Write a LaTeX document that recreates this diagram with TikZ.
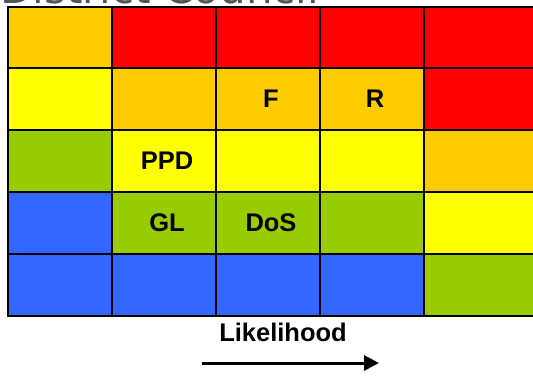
\documentclass[tikz,border=0pt]{standalone}
\usepackage{fontspec}
\setmainfont{Liberation Sans}
\newfontfamily\titlefont{DejaVu Sans}
\usetikzlibrary{arrows.meta}
\definecolor{rOrange}{HTML}{FFCC00}
\definecolor{rRed}{HTML}{FF0000}
\definecolor{rYellow}{HTML}{FFFF00}
\definecolor{rGreen}{HTML}{99CC00}
\definecolor{rBlue}{HTML}{3366FF}
\definecolor{titlegray}{HTML}{555555}
\tikzset{
  cell/.style={draw=black, line width=2.4pt, minimum width=104pt, minimum height=62pt,
    inner sep=0pt, outer sep=0pt, anchor=north west},
  lastcell/.style={cell, minimum width=120pt},
  risk/.style={font=\bfseries\fontsize{25.5}{28}\selectfont, text=black, xshift=3pt},
}
\begin{document}
\begin{tikzpicture}[x=1pt, y=-1pt]
\useasboundingbox (0,0) rectangle (533,376);
\clip (0,0) rectangle (533,376);
\fill[white] (0,0) rectangle (533,376);
% title, mostly above the visible area
\node[anchor=base west, inner sep=0pt, text=titlegray,
  font=\titlefont\fontsize{42}{46}\selectfont] (title) at (0,3) {District Council};
% risk matrix: row by row, top to bottom
\foreach \r/\y/\cols in {1/7/{rOrange,rRed,rRed,rRed,rRed},
                          2/68/{rYellow,rOrange,rOrange,rOrange,rRed},
                          3/130/{rGreen,rYellow,rYellow,rYellow,rOrange},
                          4/192/{rBlue,rGreen,rGreen,rGreen,rYellow},
                          5/254/{rBlue,rBlue,rBlue,rBlue,rGreen}} {
  \foreach \c [count=\k] in \cols {
    \ifnum\k<5
      \node[cell, fill=\c] (c\r\k) at ({8+104*(\k-1)}, \y) {};
    \else
      \node[lastcell, fill=\c] (c\r\k) at ({8+104*(\k-1)}, \y) {};
    \fi
  }
}
% risk labels
\node[risk] (lF) at (c23) {F};
\node[risk] (lR) at (c24) {R};
\node[risk] (lPPD) at (c32) {PPD};
\node[risk] (lGL) at (c42) {GL};
\node[risk] (lDoS) at (c43) {DoS};
% axis
\node[font=\bfseries\fontsize{25.5}{28}\selectfont] (axis) at (283,332) {Likelihood};
\coordinate (arrA) at (202,363);
\coordinate (arrB) at (379,363);
\draw[line width=3pt, -{Triangle[length=15pt,width=15pt]}] (arrA) -- (arrB);
\end{tikzpicture}
\end{document}
